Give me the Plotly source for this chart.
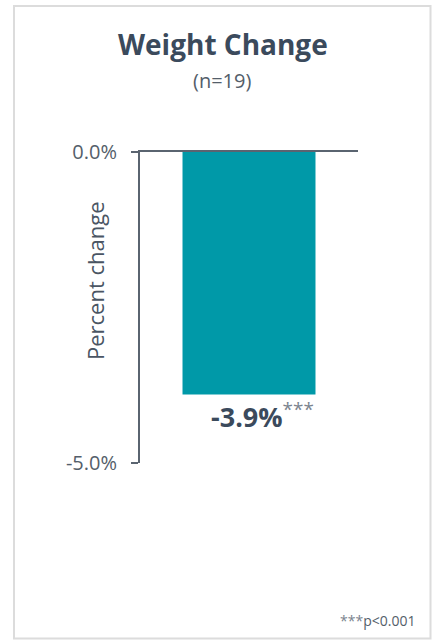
import plotly.graph_objects as go

# ---- data ----
categories = ["Weight"]
values = [-3.9]
value_labels = ["-3.9%"]
tick_vals = [0, -5]
tick_text = ["0.0%", "-5.0%"]
title_text = "Weight Change"
subtitle_text = "(n=19)"
y_title = "Percent change"
footnote = "p<0.001"

W, H = 435, 640
L, R, T, B = 140, 358, 152, 463  # plot area in pixels

def px_x(p):
    return (p - L) / (R - L)

def px_y(p):
    return (B - p) / (B - T)

FONT = "Open Sans"
TXT = "#3b4a5c"
GRAY = "#5a6470"
LBL = "#545e6a"
STAR = "#7a838e"
BAR = "#0099a8"

fig = go.Figure(go.Bar(
    x=[0], y=values, width=[0.61],
    marker=dict(color=BAR, line=dict(width=0)),
    hoverinfo="skip",
))

fig.update_layout(
    width=W, height=H,
    margin=dict(l=L, r=W - R, t=T, b=H - B),
    paper_bgcolor="white", plot_bgcolor="white",
    showlegend=False,
    font=dict(family=FONT, color=GRAY),
    xaxis=dict(range=[-0.5, 0.5], showticklabels=False, showgrid=False,
               zeroline=False, showline=True, side="top",
               linecolor=GRAY, linewidth=2, ticks=""),
    yaxis=dict(range=[-5, 0], tickvals=tick_vals, ticktext=tick_text,
               showgrid=False, zeroline=False, showline=True,
               linecolor=GRAY, linewidth=2, ticks="outside", ticklen=7,
               tickwidth=2, tickcolor=GRAY, ticklabelstandoff=10,
               tickfont=dict(size=20, color=LBL, family=FONT)),
)

anns = [
    dict(text="<b>" + title_text + "</b>", x=px_x(223), y=px_y(44),
         font=dict(size=28, color=TXT)),
    dict(text=subtitle_text, x=px_x(222), y=px_y(80),
         font=dict(size=20, color=LBL)),
    dict(text=y_title, x=px_x(95), y=px_y(281), textangle=-90,
         font=dict(size=22, color="#4a5563")),
    dict(text="<b>" + value_labels[0] + "</b><span style='color:" + STAR + "'><sup>***</sup></span>",
         x=px_x(262), y=px_y(415), font=dict(size=27, color=TXT)),
    dict(text="<span style='color:" + STAR + "'>***</span>" + footnote, x=px_x(377), y=px_y(620),
         font=dict(size=14, color=LBL)),
]
for a in anns:
    a.update(xref="paper", yref="paper", showarrow=False,
             xanchor="center", yanchor="middle")
    fig.add_annotation(**a)

fig.add_shape(type="rect", xref="paper", yref="paper",
              x0=px_x(14), x1=px_x(430.5), y0=px_y(6), y1=px_y(638.5),
              line=dict(color="#dcdcdc", width=2), layer="below")

fig.write_html("out.html", config={"displayModeBar": False},
               post_script="document.body.style.margin='0';document.body.style.overflow='hidden';")
